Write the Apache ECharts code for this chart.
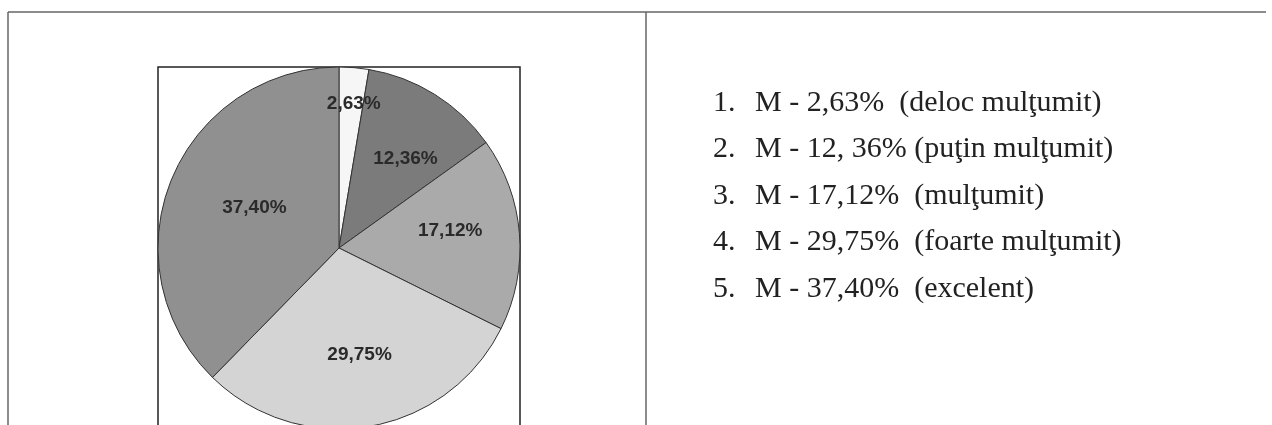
<!DOCTYPE html>
<html>
<head>
<meta charset="utf-8">
<script src="https://cdn.jsdelivr.net/npm/echarts@6/dist/echarts.min.js"></script>
<style>
  html, body { margin: 0; padding: 0; background: #fff; }
  #chart { width: 1272px; height: 425px; }
</style>
</head>
<body>
<div id="chart"></div>
<script>
  // categorii si procente
  var categories = ['deloc mulţumit', 'puţin mulţumit', 'mulţumit', 'foarte mulţumit', 'excelent'];
  var values = [2.63, 12.36, 17.12, 29.75, 37.40];
  // textele din lista din dreapta
  var listNumbers = ['1.', '2.', '3.', '4.', '5.'];
  var listTexts = [
    'M - 2,63%  (deloc mulţumit)',
    'M - 12, 36% (puţin mulţumit)',
    'M - 17,12%  (mulţumit)',
    'M - 29,75%  (foarte mulţumit)',
    'M - 37,40%  (excelent)'
  ];

  var colors = ['#f6f6f6', '#7b7b7b', '#aaaaaa', '#d4d4d4', '#909090'];
  // deplasari ale etichetelor (ca in Excel)
  var labelShift = [[7, -51], [17, -10], [18, -10], [5, 15], [2, -5]];

  var chart = echarts.init(document.getElementById('chart'));

  var pieData = categories.map(function (name, i) {
    return {
      name: name,
      value: values[i],
      itemStyle: { color: colors[i] },
      label: { offset: labelShift[i] }
    };
  });

  chart.setOption({
    animation: false,
    legend: {
      orient: 'vertical',
      left: 708,
      top: 88,
      padding: 0,
      icon: 'none',
      itemWidth: 0,
      itemHeight: 0,
      itemGap: 16.5,
      selectedMode: false,
      data: categories,
      formatter: function (name) {
        var i = categories.indexOf(name);
        return '{n|' + listNumbers[i] + '}{t|' + listTexts[i] + '}';
      },
      textStyle: {
        rich: {
          n: { width: 42, lineHeight: 30, fontFamily: 'Liberation Serif', fontSize: 30, color: '#222' },
          t: { lineHeight: 30, fontFamily: 'Liberation Serif', fontSize: 30, color: '#222' }
        }
      }
    },
    graphic: [
      // chenarul tabelului
      { type: 'line', shape: { x1: 8, y1: 12, x2: 1266, y2: 12 }, style: { stroke: '#666', lineWidth: 1.5 } },
      { type: 'line', shape: { x1: 8, y1: 12, x2: 8, y2: 425 }, style: { stroke: '#666', lineWidth: 1.5 } },
      { type: 'line', shape: { x1: 646, y1: 12, x2: 646, y2: 425 }, style: { stroke: '#666', lineWidth: 1.5 } },
      // chenarul graficului
      { type: 'rect', shape: { x: 158, y: 67, width: 362, height: 380 }, style: { fill: 'none', stroke: '#222', lineWidth: 1.5 } }
    ],
    series: [{
      type: 'pie',
      center: [339, 248],
      radius: 181,
      startAngle: 90,
      clockwise: true,
      avoidLabelOverlap: false,
      itemStyle: { borderColor: '#333', borderWidth: 1 },
      label: {
        position: 'inside',
        formatter: function (p) {
          return p.value.toFixed(2).replace('.', ',') + '%';
        },
        fontFamily: 'Liberation Sans',
        fontWeight: 'bold',
        fontSize: 19,
        color: '#2a2a2a'
      },
      labelLine: { show: false },
      emphasis: { disabled: true },
      data: pieData
    }]
  });
</script>
</body>
</html>
